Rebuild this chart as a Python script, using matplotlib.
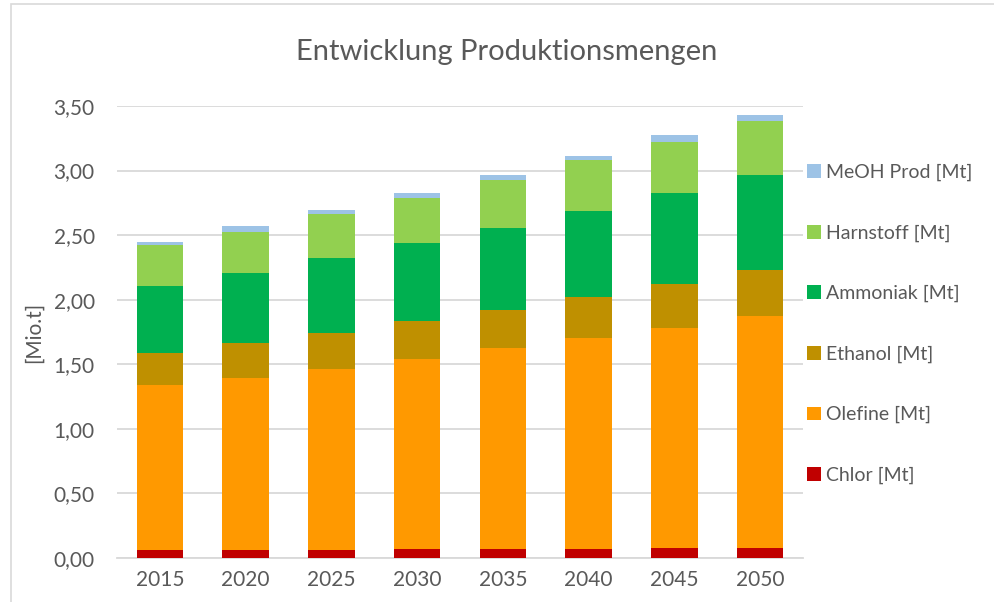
import matplotlib
matplotlib.use("Agg")
import matplotlib.pyplot as plt
from matplotlib.patches import Rectangle, Patch
import numpy as np

years = ["2015", "2020", "2025", "2030", "2035", "2040", "2045", "2050"]
chlor     = [0.06, 0.06, 0.06, 0.07, 0.07, 0.07, 0.08, 0.08]
olefine   = [1.28, 1.335, 1.405, 1.473, 1.553, 1.633, 1.703, 1.793]
ethanol   = [0.245, 0.267, 0.277, 0.292, 0.297, 0.318, 0.338, 0.357]
ammoniak  = [0.52, 0.547, 0.578, 0.607, 0.638, 0.666, 0.708, 0.736]
harnstoff = [0.315, 0.318, 0.342, 0.349, 0.37, 0.391, 0.396, 0.419]
meoh      = [0.025, 0.041, 0.036, 0.036, 0.038, 0.036, 0.049, 0.049]

series = [
    ("Chlor [Mt]", chlor, "#C00000"),
    ("Olefine [Mt]", olefine, "#FF9900"),
    ("Ethanol [Mt]", ethanol, "#BF9000"),
    ("Ammoniak [Mt]", ammoniak, "#00B050"),
    ("Harnstoff [Mt]", harnstoff, "#92D050"),
    ("MeOH Prod [Mt]", meoh, "#9DC3E6"),
]

plt.rcParams["font.family"] = ["Lato", "DejaVu Sans"]
txt = "#595959"
grid = "#D9D9D9"

fig = plt.figure(figsize=(9.95, 6.02), dpi=100)
W, H = 995, 602
fig.patches.append(Rectangle((11 / W, -0.1), 1.2, (H - 4) / H + 0.1,
                             transform=fig.transFigure, fill=False,
                             edgecolor=grid, linewidth=1.2))

ax = fig.add_axes([117 / W, (H - 558) / H, 686 / W, 452 / H])
x = np.arange(len(years))
bottom = np.zeros(len(years))
handles = []
for name, vals, col in series:
    ax.bar(x, vals, width=0.545, bottom=bottom, color=col, label=name, zorder=3)
    bottom += np.array(vals)
    handles.append(Patch(facecolor=col, edgecolor="none", label=name))

ax.set_xlim(-0.5, len(years) - 0.5)
ax.set_ylim(0, 3.5)
ax.set_yticks(np.arange(0, 3.51, 0.5))
ax.set_yticklabels([f"{v:.2f}".replace(".", ",") for v in np.arange(0, 3.51, 0.5)])
ax.set_xticks(x)
ax.set_xticklabels(years)
ax.yaxis.grid(True, color=grid, linewidth=1.3, zorder=0)
ax.set_axisbelow(True)
for s in ["top", "right", "left"]:
    ax.spines[s].set_visible(False)
ax.spines["bottom"].set_color(grid)
ax.spines["bottom"].set_linewidth(1.3)
ax.tick_params(axis="both", length=0, labelsize=15, colors=txt)
ax.tick_params(axis="y", pad=16)
ax.tick_params(axis="x", pad=9)
ax.set_ylabel("[Mio.t]", fontsize=15, color=txt, labelpad=7)

fig.text(507 / W, 1 - 52 / H, "Entwicklung Produktionsmengen", ha="center",
         va="center", fontsize=21, color=txt)

leg = fig.legend(handles=handles[::-1], loc="upper left",
                 bbox_to_anchor=(807 / W, 1 - 164 / H), frameon=False,
                 borderpad=0, borderaxespad=0,
                 fontsize=14, labelcolor=txt, handlelength=0.7, handleheight=0.7,
                 handletextpad=0.3, labelspacing=2.22)

fig.savefig("out.png", dpi=100)
